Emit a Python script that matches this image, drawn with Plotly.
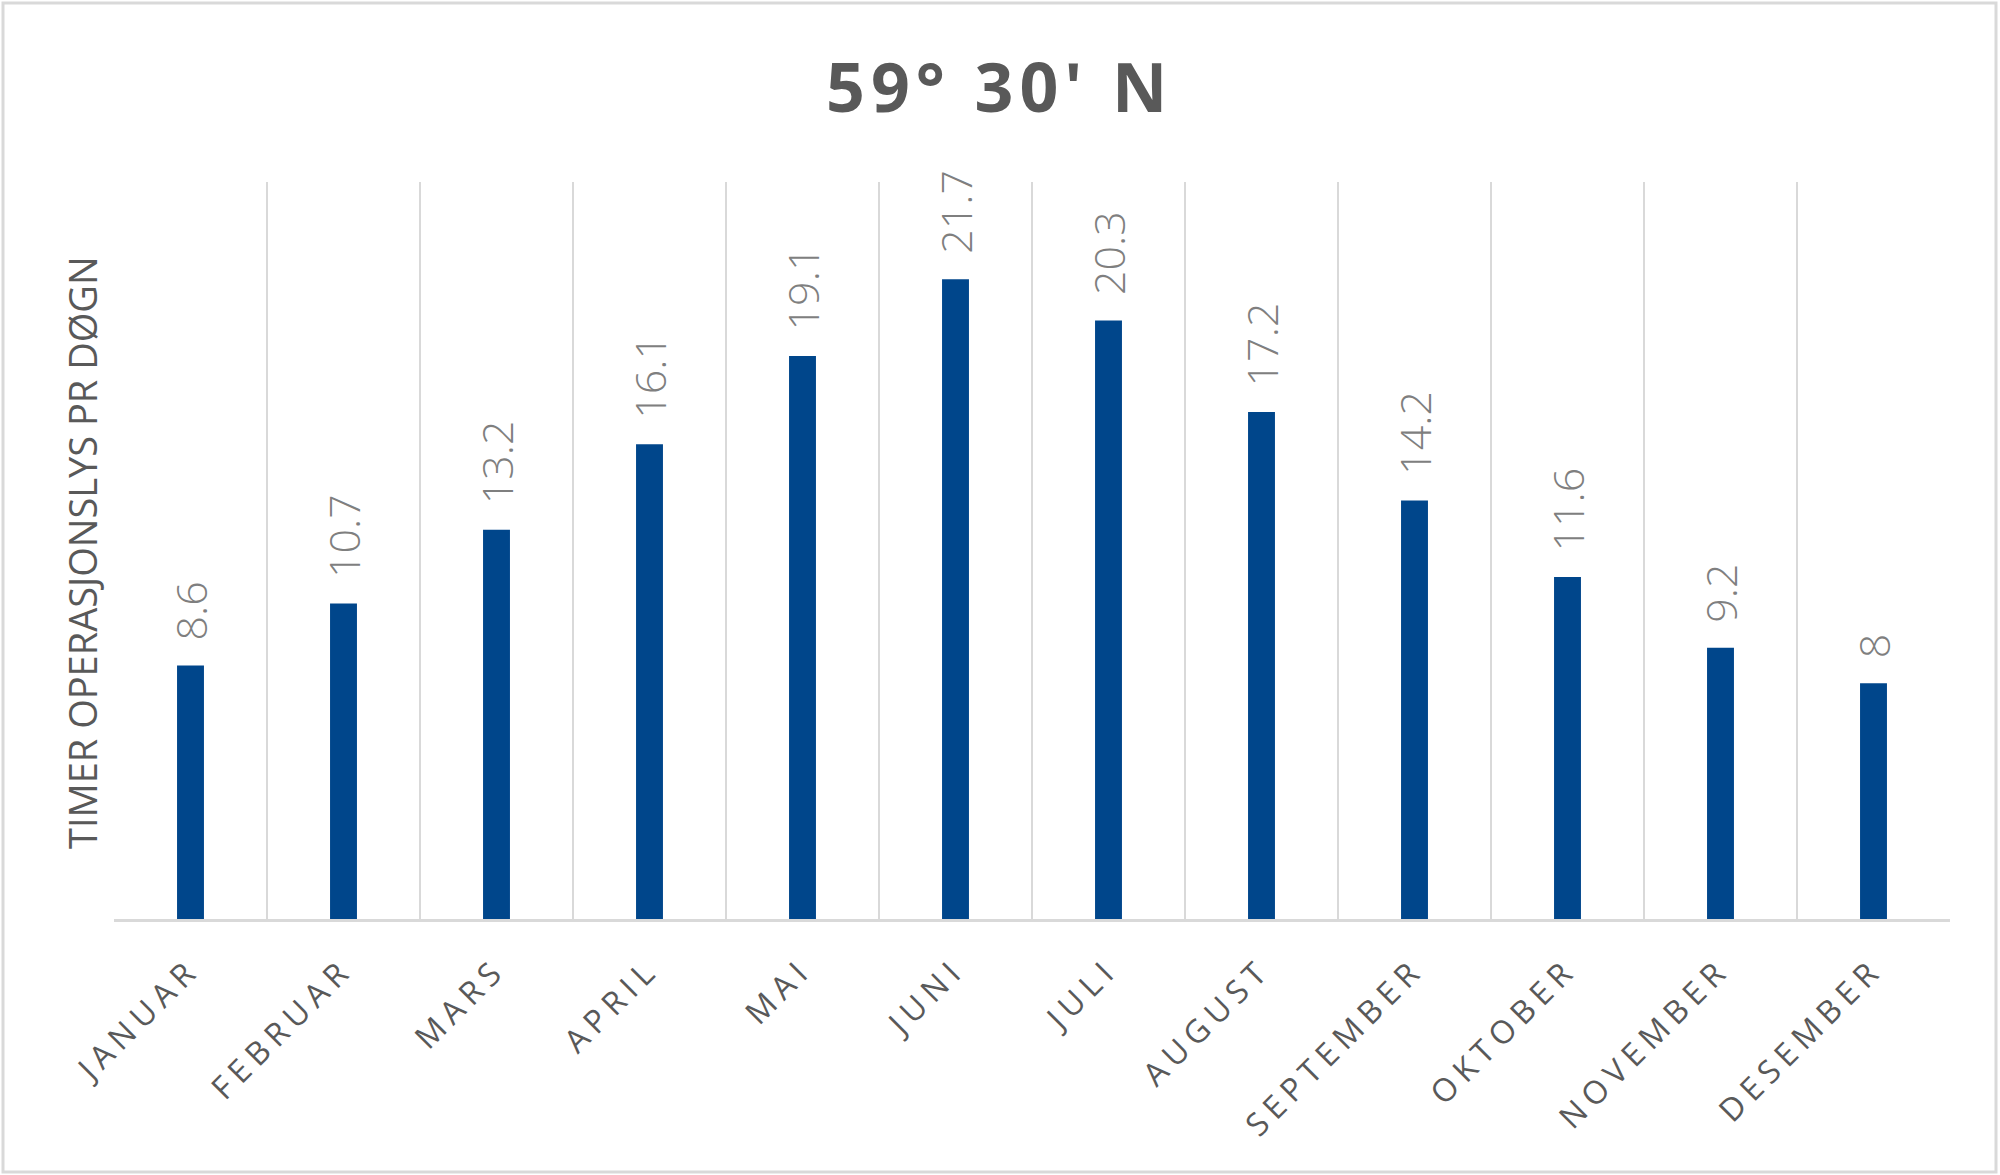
import plotly.graph_objects as go

months = ["JANUAR", "FEBRUAR", "MARS", "APRIL", "MAI", "JUNI", "JULI",
          "AUGUST", "SEPTEMBER", "OKTOBER", "NOVEMBER", "DESEMBER"]
hours = [8.6, 10.7, 13.2, 16.1, 19.1, 21.7, 20.3, 17.2, 14.2, 11.6, 9.2, 8]
title_text = "59° 30' N"
y_title = "TIMER OPERASJONSLYS PR DØGN"

W, H = 2000, 1175
ML, MR, MT, MB = 114, 50, 182, 256
PW = W - ML - MR
PH = H - MT - MB

fig = go.Figure()
fig.add_trace(go.Bar(
    x=months, y=hours,
    marker=dict(color="#00468b", line=dict(width=0)),
    hoverinfo="x+y",
))

def spaced(t, sp):
    return f'<span style="letter-spacing:{sp}px">{t}</span>'

for m, v in zip(months, hours):
    fig.add_annotation(
        x=m, y=v, text=f"{v:g}", showarrow=False,
        textangle=-90, xanchor="center", yanchor="bottom", yshift=23,
        font=dict(family="Open Sans", size=43, color="#7f7f7f", weight=300),
    )

fig.add_annotation(
    xref="paper", yref="paper",
    x=(82 - ML) / PW, y=(H - MB - 553) / PH,
    text=y_title, showarrow=False, textangle=-90,
    xanchor="center", yanchor="middle",
    font=dict(family="Open Sans", size=38, color="#595959"),
)

fig.add_annotation(
    xref="paper", yref="paper",
    x=(999 - ML) / PW, y=1 + (MT - 85) / PH,
    text=spaced(title_text, 6), showarrow=False,
    xanchor="center", yanchor="middle",
    font=dict(family="Open Sans", size=68, color="#595959", weight="bold"),
)

# outer frame
fig.add_shape(
    type="rect", xref="paper", yref="paper",
    x0=(3 - ML) / PW, x1=(1996 - ML) / PW,
    y0=-(1172 - (H - MB)) / PH, y1=1 + (MT - 3) / PH,
    line=dict(color="#d9d9d9", width=3), fillcolor="rgba(0,0,0,0)",
)

fig.update_layout(
    width=W, height=H,
    margin=dict(l=ML, r=MR, t=MT, b=MB),
    paper_bgcolor="white", plot_bgcolor="white",
    bargap=0.824,
    showlegend=False,
    font=dict(family="Open Sans", color="#595959"),
)
fig.update_xaxes(
    type="category",
    tickmode="array", tickvals=months, ticktext=[spaced(m, 6.5) for m in months],
    tickangle=-45,
    tickson="boundaries",
    showgrid=True, gridcolor="#d9d9d9", gridwidth=2,
    showline=True, linecolor="#d9d9d9", linewidth=3,
    ticks="",
    ticklabelstandoff=16,
    tickfont=dict(family="Open Sans", size=32, color="#595959"),
    range=[-0.5, 11.5],
)
fig.update_yaxes(
    range=[0, 25], showgrid=False, zeroline=False, showline=False,
    showticklabels=False, ticks="",
)

fig.write_html(
    "out.html",
    config={"displayModeBar": False},
    post_script="document.body.style.margin='0';document.body.style.overflow='hidden';",
)
